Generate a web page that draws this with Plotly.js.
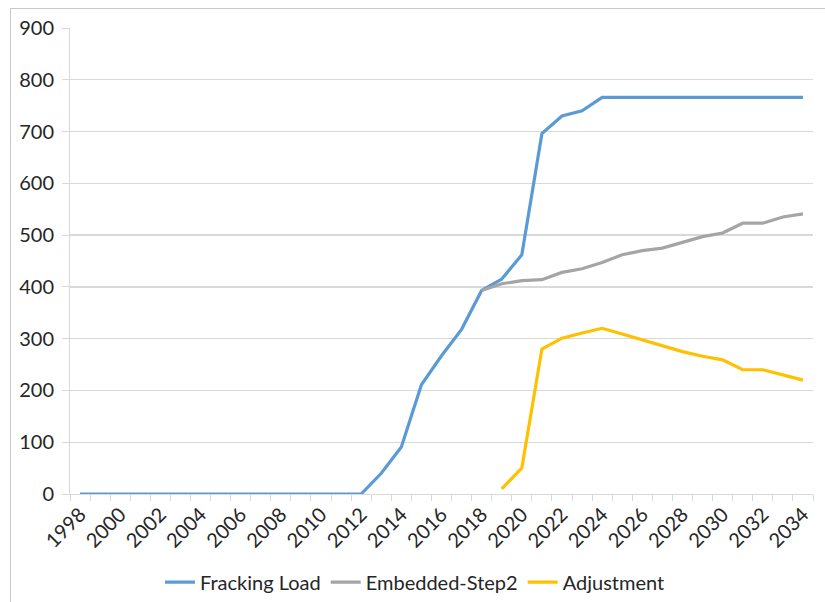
<!DOCTYPE html>
<html>
<head>
<meta charset="utf-8">
<script src="https://cdn.plot.ly/plotly-3.0.1.min.js"></script>
<style>
html,body{margin:0;padding:0;background:#fff;}
#chart{width:825px;height:602px;position:relative;}
#frame{position:absolute;left:10px;top:8px;width:830px;height:610px;border:1px solid #c8c8c8;pointer-events:none;}
</style>
</head>
<body>
<div id="wrap" style="position:relative;width:825px;height:602px;overflow:hidden;">
<div id="chart"></div>
<div id="frame"></div>
</div>
<script>
const years = [1998,1999,2000,2001,2002,2003,2004,2005,2006,2007,2008,2009,2010,2011,2012,2013,2014,2015,2016,2017,2018,2019,2020,2021,2022,2023,2024,2025,2026,2027,2028,2029,2030,2031,2032,2033,2034];
const frackingLoad = [0,0,0,0,0,0,0,0,0,0,0,0,0,0,0,40,91,211,267,318,393,415,462,696,730,740,766,766,766,766,766,766,766,766,766,766,766];
const embeddedStep2 = [null,null,null,null,null,null,null,null,null,null,null,null,null,null,null,null,null,null,null,null,393,406,412,414,428,435,447,462,470,475,486,497,504,523,523,535,541];
const adjustment = [null,null,null,null,null,null,null,null,null,null,null,null,null,null,null,null,null,null,null,null,null,10,50,280,301,311,320,309,298,286,275,266,259,240,240,230,220];
const yTicks = [0,100,200,300,400,500,600,700,800,900];
const xLabelYears = [1998,2000,2002,2004,2006,2008,2010,2012,2014,2016,2018,2020,2022,2024,2026,2028,2030,2032,2034];

const fontFam = 'Lato, "Open Sans", sans-serif';
const txt = '#262626';

const traces = [
  {x: years, y: frackingLoad, name: 'Fracking Load', type: 'scatter', mode: 'lines',
   line: {color: '#5B9BD5', width: 3.2}, connectgaps: false},
  {x: years, y: embeddedStep2, name: 'Embedded-Step2', type: 'scatter', mode: 'lines',
   line: {color: '#A5A5A5', width: 3.2}, connectgaps: false},
  {x: years, y: adjustment, name: 'Adjustment', type: 'scatter', mode: 'lines',
   line: {color: '#FFC000', width: 3.2}, connectgaps: false}
];

const layout = {
  width: 825, height: 602,
  margin: {l: 70, r: 12, t: 28, b: 108, autoexpand: false},
  paper_bgcolor: '#fff', plot_bgcolor: '#fff',
  font: {family: fontFam, size: 20, color: txt},
  showlegend: true,
  legend: {orientation: 'h', xref: 'container', yref: 'container', x: 0.503, xanchor: 'center', y: 0.033, yanchor: 'middle',
           font: {family: fontFam, size: 20, color: txt}, itemwidth: 30, tracegroupgap: 0},
  xaxis: {
    range: [1997.5, 2034.5], tickmode: 'array', tickvals: xLabelYears,
    ticktext: xLabelYears.map(String), tickangle: -45, ticks: '',
    showgrid: false, zeroline: false, showline: true, linecolor: '#d9d9d9', linewidth: 1,
    tickfont: {family: fontFam, size: 20, color: txt}, automargin: false
  },
  xaxis2: {
    overlaying: 'x', anchor: 'y', side: 'bottom',
    range: [1997.5, 2034.5], tickmode: 'linear', tick0: 1997.5, dtick: 1,
    ticks: 'outside', ticklen: 6, tickcolor: '#d9d9d9', tickwidth: 1,
    showticklabels: false, showgrid: false, zeroline: false, showline: false, automargin: false
  },
  yaxis: {
    range: [0, 900], tickmode: 'array', tickvals: yTicks,
    ticks: 'outside', ticklen: 7, tickcolor: '#d9d9d9', tickwidth: 1,
    showgrid: true, gridcolor: '#d9d9d9', gridwidth: 1.4, zeroline: false,
    showline: true, linecolor: '#d9d9d9', linewidth: 1,
    tickfont: {family: fontFam, size: 20, color: txt}, ticklabelstandoff: 4, automargin: false
  }
};
traces.push({x: [2000], y: [null], xaxis: 'x2', yaxis: 'y', showlegend: false, hoverinfo: 'skip', type: 'scatter', mode: 'lines'});

Plotly.newPlot('chart', traces, layout, {displayModeBar: false, staticPlot: true});
</script>
</body>
</html>
